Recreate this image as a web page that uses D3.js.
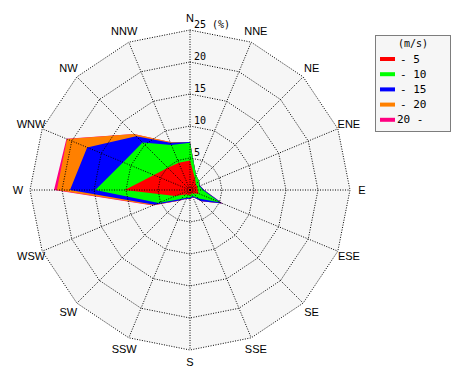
<!DOCTYPE html>
<html>
<head>
<meta charset="utf-8">
<script src="https://cdn.jsdelivr.net/npm/d3@7"></script>
<style>
  body { margin: 0; background: #fff; }
  svg { display: block; }
</style>
</head>
<body>
<svg width="470" height="380"></svg>
<script>
// Directions, clockwise from north
const directions = ['N','NNE','NE','ENE','E','ESE','SE','SSE','S','SSW','SW','WSW','W','WNW','NW','NNW'];

// Cumulative frequency (%) per speed class
const upTo5  = [4.6, 2.0, 1.3, 1.2, 1.2, 1.5, 0.8, 0.6, 0.8, 0.8, 1.0, 2.5, 10.2, 6.1, 4.9, 4.6];
const upTo10 = [7.4, 2.5, 2.0, 1.6, 2.0, 5.1, 1.9, 1.0, 1.2, 1.3, 2.0, 5.3, 14.8, 11.3, 10.5, 7.6];
const upTo15 = [7.5, 2.5, 2.0, 1.7, 2.2, 5.5, 2.5, 1.2, 1.4, 1.5, 2.3, 6.0, 18.75, 17.4, 11.9, 8.0];
const upTo20 = [7.5, 2.5, 2.0, 1.7, 2.2, 5.5, 2.5, 1.2, 1.5, 1.5, 2.4, 6.2, 20.8, 20.8, 12.4, 8.1];
const over20 = [7.5, 2.5, 2.0, 1.7, 2.2, 5.5, 2.5, 1.2, 1.5, 1.5, 2.4, 6.3, 21.25, 20.9, 12.4, 8.1];

const speedLabels = ['- 5', '- 10', '- 15', '- 20', '20 -'];
const speedColors = ['#ff0000', '#00ff00', '#0000ff', '#ff8000', '#ff0080'];
const ringTicks = [5, 10, 15, 20, 25];

const cx = 190, cy = 190, radius = 160;
const svg = d3.select('svg');
const g = svg.append('g').attr('transform', `translate(${cx},${cy})`);

const r = d3.scaleLinear().domain([0, 25]).range([0, radius]);
const angle = i => i * 2 * Math.PI / directions.length;

const ring = d3.lineRadial()
    .angle((d, i) => angle(i))
    .radius(d => r(d))
    .curve(d3.curveLinearClosed);

// Plot background
g.append('path')
    .attr('d', ring(directions.map(() => 25)))
    .attr('fill', '#f6f6f6');

// Speed polygons, largest first
const series = [upTo5, upTo10, upTo15, upTo20, over20];
g.selectAll('path.speed')
    .data(series.map((s, i) => ({ values: s, color: speedColors[i] })).reverse())
    .join('path')
    .attr('class', 'speed')
    .attr('d', d => ring(d.values))
    .attr('fill', d => d.color);

// Grid rings
g.selectAll('path.ring')
    .data(ringTicks)
    .join('path')
    .attr('class', 'ring')
    .attr('d', t => ring(directions.map(() => t)))
    .attr('fill', 'none')
    .attr('stroke', '#000')
    .attr('stroke-width', 1)
    .attr('stroke-dasharray', '1,1.5');

// Spokes
g.selectAll('line.spoke')
    .data(directions)
    .join('line')
    .attr('class', 'spoke')
    .attr('x1', 0).attr('y1', 0)
    .attr('x2', (d, i) => r(25) * Math.sin(angle(i)))
    .attr('y2', (d, i) => -r(25) * Math.cos(angle(i)))
    .attr('stroke', '#000')
    .attr('stroke-width', 1)
    .attr('stroke-dasharray', '1,1.5');

// Ring labels along the north spoke
g.selectAll('text.tick')
    .data(ringTicks)
    .join('text')
    .attr('class', 'tick')
    .attr('x', 4)
    .attr('y', t => -r(t) - 2)
    .attr('font-family', 'DejaVu Sans Mono, monospace')
    .attr('font-size', 10)
    .attr('fill', '#000')
    .text(t => t === 25 ? '25 (%)' : t);

// Direction labels
g.selectAll('text.dir')
    .data(directions)
    .join('text')
    .attr('class', 'dir')
    .attr('x', (d, i) => 172 * Math.sin(angle(i)))
    .attr('y', (d, i) => -172 * Math.cos(angle(i)))
    .attr('text-anchor', 'middle')
    .attr('dominant-baseline', 'central')
    .attr('font-family', 'Liberation Sans Narrow, Liberation Sans, sans-serif')
    .attr('font-size', 11)
    .attr('fill', '#000')
    .text(d => d);

// Legend
const legend = svg.append('g').attr('transform', 'translate(375,35)');
legend.append('rect')
    .attr('x', 0.5).attr('y', 0.5)
    .attr('width', 75).attr('height', 96)
    .attr('fill', '#f6f6f6')
    .attr('stroke', '#000')
    .attr('stroke-dasharray', '1,1');
legend.append('text')
    .attr('x', 38).attr('y', 12)
    .attr('text-anchor', 'middle')
    .attr('font-family', 'DejaVu Sans Mono, monospace')
    .attr('font-size', 10)
    .text('(m/s)');
const rows = legend.selectAll('g.row')
    .data(speedLabels)
    .join('g')
    .attr('class', 'row')
    .attr('transform', (d, i) => `translate(5,${24 + i * 15.2})`);
rows.append('rect')
    .attr('x', 0).attr('y', -2)
    .attr('width', 15).attr('height', 4)
    .attr('fill', (d, i) => speedColors[i]);
rows.append('text')
    .attr('x', (d, i) => i === 4 ? 17 : 20)
    .attr('y', 0)
    .attr('dominant-baseline', 'central')
    .attr('font-family', 'DejaVu Sans Mono, monospace')
    .attr('font-size', 11)
    .text(d => d);
</script>
</body>
</html>
